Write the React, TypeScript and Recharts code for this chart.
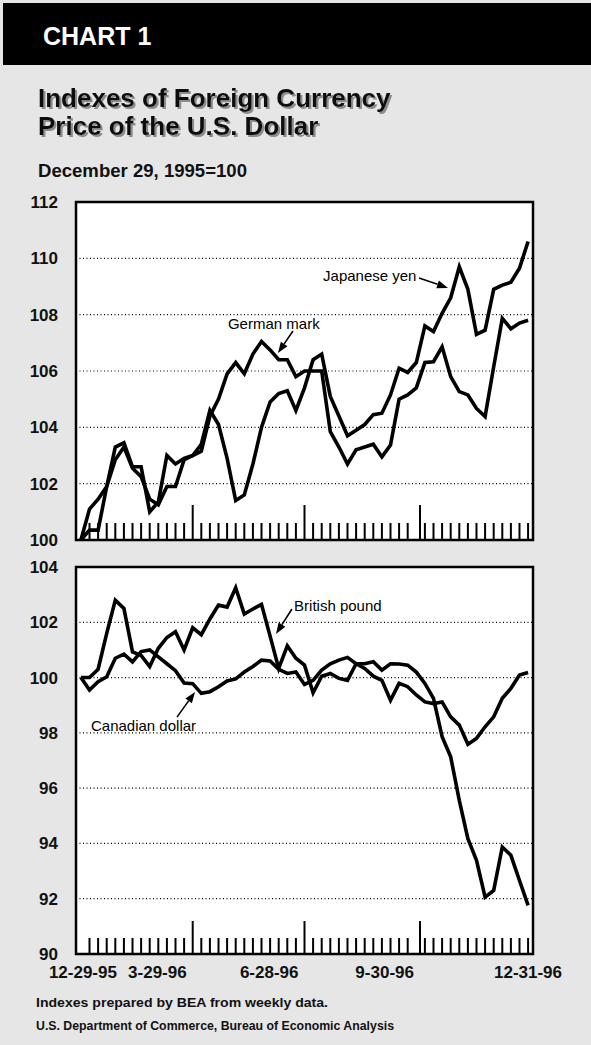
import React from 'react';
import { LineChart, Line, XAxis, YAxis, CartesianGrid, ReferenceArea, ReferenceLine, ReferenceDot } from 'recharts';

const FONT = '"Liberation Sans", Arial, Helvetica, sans-serif';

// weekly readings, first one is Friday 12-29-95 (=100)
const yen = [
  100.0, 101.1, 101.45, 101.9, 102.85, 103.3, 102.55, 102.25, 101.45, 101.25,
  101.9, 101.9, 102.85, 103.0, 103.4, 104.6, 104.1, 102.9, 101.4, 101.6,
  102.7, 104.0, 104.9, 105.2, 105.3, 104.6, 105.4, 106.4, 106.6, 105.1,
  104.4, 103.7, 103.9, 104.1, 104.45, 104.5, 105.15, 106.1, 105.95, 106.3,
  107.6, 107.4, 108.05, 108.6, 109.7, 108.9, 107.3, 107.45, 108.9, 109.05,
  109.15, 109.65, 110.6,
];
const mark = [
  100.0, 100.35, 100.35, 101.9, 103.3, 103.45, 102.6, 102.6, 101.0, 101.35,
  103.0, 102.7, 102.9, 103.0, 103.15, 104.4, 105.0, 105.9, 106.3, 105.9,
  106.6, 107.05, 106.75, 106.4, 106.4, 105.8, 106.0, 106.0, 106.0, 103.85,
  103.3, 102.7, 103.2, 103.3, 103.4, 102.95, 103.37, 105.0, 105.15, 105.4,
  106.3, 106.33, 106.86, 105.8, 105.27, 105.15, 104.67, 104.38, 106.15, 107.87,
  107.5, 107.7, 107.8,
];
const pound = [
  100.0, 100.0, 100.3, 101.6, 102.8, 102.5, 100.93, 100.8, 100.4, 101.06,
  101.45, 101.66, 101.0, 101.8, 101.55, 102.12, 102.62, 102.55, 103.25, 102.3,
  102.48, 102.65, 101.5, 100.33, 101.15, 100.7, 100.45, 99.45, 100.05, 100.15,
  99.97, 99.9, 100.5, 100.5, 100.57, 100.27, 100.5, 100.49, 100.45, 100.2,
  99.79, 99.25, 97.86, 97.13, 95.56, 94.17, 93.39, 92.06, 92.3, 93.87,
  93.57, 92.66, 91.76,
];
const canDollar = [
  100.0, 99.55, 99.85, 100.03, 100.7, 100.85, 100.57, 100.94, 101.0, 100.75,
  100.5, 100.25, 99.8, 99.78, 99.43, 99.49, 99.67, 99.88, 99.95, 100.2,
  100.4, 100.63, 100.6, 100.3, 100.15, 100.2, 99.75, 99.9, 100.27, 100.5,
  100.63, 100.73, 100.5, 100.33, 100.05, 99.9, 99.18, 99.79, 99.67, 99.37,
  99.12, 99.06, 99.12, 98.58, 98.28, 97.59, 97.8, 98.22, 98.58, 99.25,
  99.61, 100.09, 100.18,
];

const dateLabels = ['12-29-95', '3-29-96', '6-28-96', '9-30-96', '12-31-96'];
const labelDays = [0, 91, 182, 276, 368];
const majorDays = [91, 182, 276];
const topTicks = [100, 102, 104, 106, 108, 110, 112];
const bottomTicks = [90, 92, 94, 96, 98, 100, 102, 104];

// x axis runs in days from 12-29-95
const xDomain: [number, number] = [-4, 368];
const weekDays = yen.map((_, i) => i * 7);
const tickDays = weekDays.filter((d) => d > 0 && d !== 273).concat([276]).sort((a, b) => a - b);

const topData = weekDays.map((d, i) => ({ day: d, yen: yen[i], mark: mark[i] }));
const bottomData = weekDays.map((d, i) => ({ day: d, pound: pound[i], cad: canDollar[i] }));

// callouts, in data units
const topNotes = [
  { text: 'German mark', tx: 119.7, ty: 107.49, x1: 172.6, y1: 107.42, x2: 160.4, y2: 106.64 },
  { text: 'Japanese yen', tx: 197.1, ty: 109.2, x1: 275.2, y1: 109.3, x2: 298.8, y2: 108.95 },
];
const bottomNotes = [
  { text: 'British pound', tx: 173.5, ty: 102.41, x1: 171.8, y1: 102.48, x2: 158.8, y2: 101.58 },
  { text: 'Canadian dollar', tx: 8.2, ty: 98.07, x1: 78.2, y1: 98.57, x2: 92.9, y2: 99.48 },
];

const Arrow = (p: any) => {
  const { x1, y1, x2, y2 } = p;
  const a = Math.atan2(y2 - y1, x2 - x1);
  const len = 11;
  const half = 4;
  const bx = x2 - len * Math.cos(a);
  const by = y2 - len * Math.sin(a);
  const pts = `${x2},${y2} ${bx - half * Math.sin(a)},${by + half * Math.cos(a)} ${bx + half * Math.sin(a)},${by - half * Math.cos(a)}`;
  return (
    <g>
      <line x1={x1} y1={y1} x2={bx} y2={by} stroke="#000" strokeWidth={1.6} />
      <polygon points={pts} fill="#000" />
    </g>
  );
};

const noteLabel = (text: string) => (p: any) => (
  <text x={p.cx} y={p.cy} fontSize={15} fontFamily={FONT} fill="#000">{text}</text>
);

const InTick = (p: any, long: number, short: number) => {
  const h = majorDays.includes(p.payload.value) ? long : short;
  return <line x1={p.x} y1={p.y} x2={p.x} y2={p.y - h} stroke="#000" strokeWidth={2} />;
};

const DateTick = (p: any) => {
  const i = labelDays.indexOf(p.payload.value);
  const inner = i > 0 && i < labelDays.length - 1;
  const dx = i === 0 ? 2 : inner ? -6 : -5;
  return (
    <text x={p.x + dx} y={p.y + 22} textAnchor={inner ? 'end' : 'middle'} fontSize={17} fontWeight="bold" fontFamily={FONT} fill="#111">
      {dateLabels[i]}
    </text>
  );
};

const yTick = { fill: '#111', fontSize: 17, fontWeight: 'bold', fontFamily: FONT };

export default function App() {
  return (
    <div style={{ position: 'absolute', left: 0, top: 0, width: 591, height: 1045, background: '#e6e6e6', overflow: 'hidden', fontFamily: FONT }}>
      <svg width={591} height={1045} style={{ position: 'absolute', left: 0, top: 0 }}>
        <defs>
          <filter id="titleShadow" x="-5%" y="-20%" width="110%" height="140%">
            <feDropShadow dx={2} dy={2} stdDeviation={0.4} floodColor="#8c8c8c" floodOpacity={1} />
          </filter>
        </defs>
        <rect x={3} y={3} width={588} height={62} fill="#000" />
        <text x={43} y={45} fill="#fff" fontSize={25} fontWeight="bold" fontFamily={FONT}>CHART 1</text>

        <g fontSize={26} fontWeight="bold" fontFamily={FONT} fill="#111" filter="url(#titleShadow)">
          <text x={38} y={107}>Indexes of Foreign Currency</text>
          <text x={38} y={135}>Price of the U.S. Dollar</text>
        </g>
        <text x={38} y={177} fontSize={18} fontWeight="bold" fontFamily={FONT} fill="#111" textLength={209} lengthAdjust="spacingAndGlyphs">
          December 29, 1995=100
        </text>

        <g fontSize={12} fontWeight="bold" fontFamily={FONT} fill="#111">
          <text x={36} y={1007} textLength={292} lengthAdjust="spacingAndGlyphs">Indexes prepared by BEA from weekly data.</text>
          <text x={36} y={1030} textLength={358} lengthAdjust="spacingAndGlyphs">U.S. Department of Commerce, Bureau of Economic Analysis</text>
        </g>
      </svg>

      {/* Top panel: yen and mark */}
      <div style={{ position: 'absolute', left: 0, top: 190 }}>
        <LineChart width={591} height={360} data={topData} margin={{ top: 12, right: 58, bottom: 0, left: 0 }}>
          <CartesianGrid horizontal vertical={false} stroke="#000" strokeWidth={1.2} strokeDasharray="1 2.5" fill="#fff" />
          <XAxis type="number" dataKey="day" domain={xDomain} ticks={tickDays} interval={0} height={10}
            axisLine={false} tickLine={false} tickSize={0} tickMargin={0} tick={(p: any) => InTick(p, 35, 17)} />
          <YAxis type="number" domain={[100, 112]} ticks={topTicks} interval={0} width={76}
            axisLine={false} tickLine={false} tickSize={0} tickMargin={18} tick={yTick} />
          <Line type="linear" dataKey="yen" stroke="#000" strokeWidth={3.6} dot={false} isAnimationActive={false} />
          <Line type="linear" dataKey="mark" stroke="#000" strokeWidth={3.6} dot={false} isAnimationActive={false} />
          <ReferenceArea x1={xDomain[0]} x2={xDomain[1]} y1={100} y2={112} fill="none" stroke="#000" strokeWidth={2.5} />
          {topNotes.map((n) => (
            <ReferenceLine key={n.text + 'a'} segment={[{ x: n.x1, y: n.y1 }, { x: n.x2, y: n.y2 }]} shape={Arrow} />
          ))}
          {topNotes.map((n) => (
            <ReferenceDot key={n.text} x={n.tx} y={n.ty} r={0} shape={noteLabel(n.text)} />
          ))}
        </LineChart>
      </div>

      {/* Bottom panel: pound and Canadian dollar */}
      <div style={{ position: 'absolute', left: 0, top: 555 }}>
        <LineChart width={591} height={439} data={bottomData} margin={{ top: 12, right: 58, bottom: 0, left: 0 }}>
          <CartesianGrid horizontal vertical={false} stroke="#000" strokeWidth={1.2} strokeDasharray="1 2.5" fill="#fff" />
          <XAxis type="number" dataKey="day" domain={xDomain} ticks={tickDays} interval={0} height={2}
            axisLine={false} tickLine={false} tickSize={0} tickMargin={0} tick={(p: any) => InTick(p, 33, 16)} />
          <XAxis xAxisId="lbl" type="number" dataKey="day" domain={xDomain} ticks={labelDays} interval={0} height={38}
            axisLine={false} tickLine={false} tickSize={0} tickMargin={0} tick={DateTick} />
          <YAxis type="number" domain={[90, 104]} ticks={bottomTicks} interval={0} width={76}
            axisLine={false} tickLine={false} tickSize={0} tickMargin={18} tick={yTick} />
          <Line type="linear" dataKey="pound" stroke="#000" strokeWidth={3.6} dot={false} isAnimationActive={false} />
          <Line type="linear" dataKey="cad" stroke="#000" strokeWidth={3.6} dot={false} isAnimationActive={false} />
          <ReferenceArea x1={xDomain[0]} x2={xDomain[1]} y1={90} y2={104} fill="none" stroke="#000" strokeWidth={2.5} />
          {bottomNotes.map((n) => (
            <ReferenceLine key={n.text + 'a'} segment={[{ x: n.x1, y: n.y1 }, { x: n.x2, y: n.y2 }]} shape={Arrow} />
          ))}
          {bottomNotes.map((n) => (
            <ReferenceDot key={n.text} x={n.tx} y={n.ty} r={0} shape={noteLabel(n.text)} />
          ))}
        </LineChart>
      </div>
    </div>
  );
}
